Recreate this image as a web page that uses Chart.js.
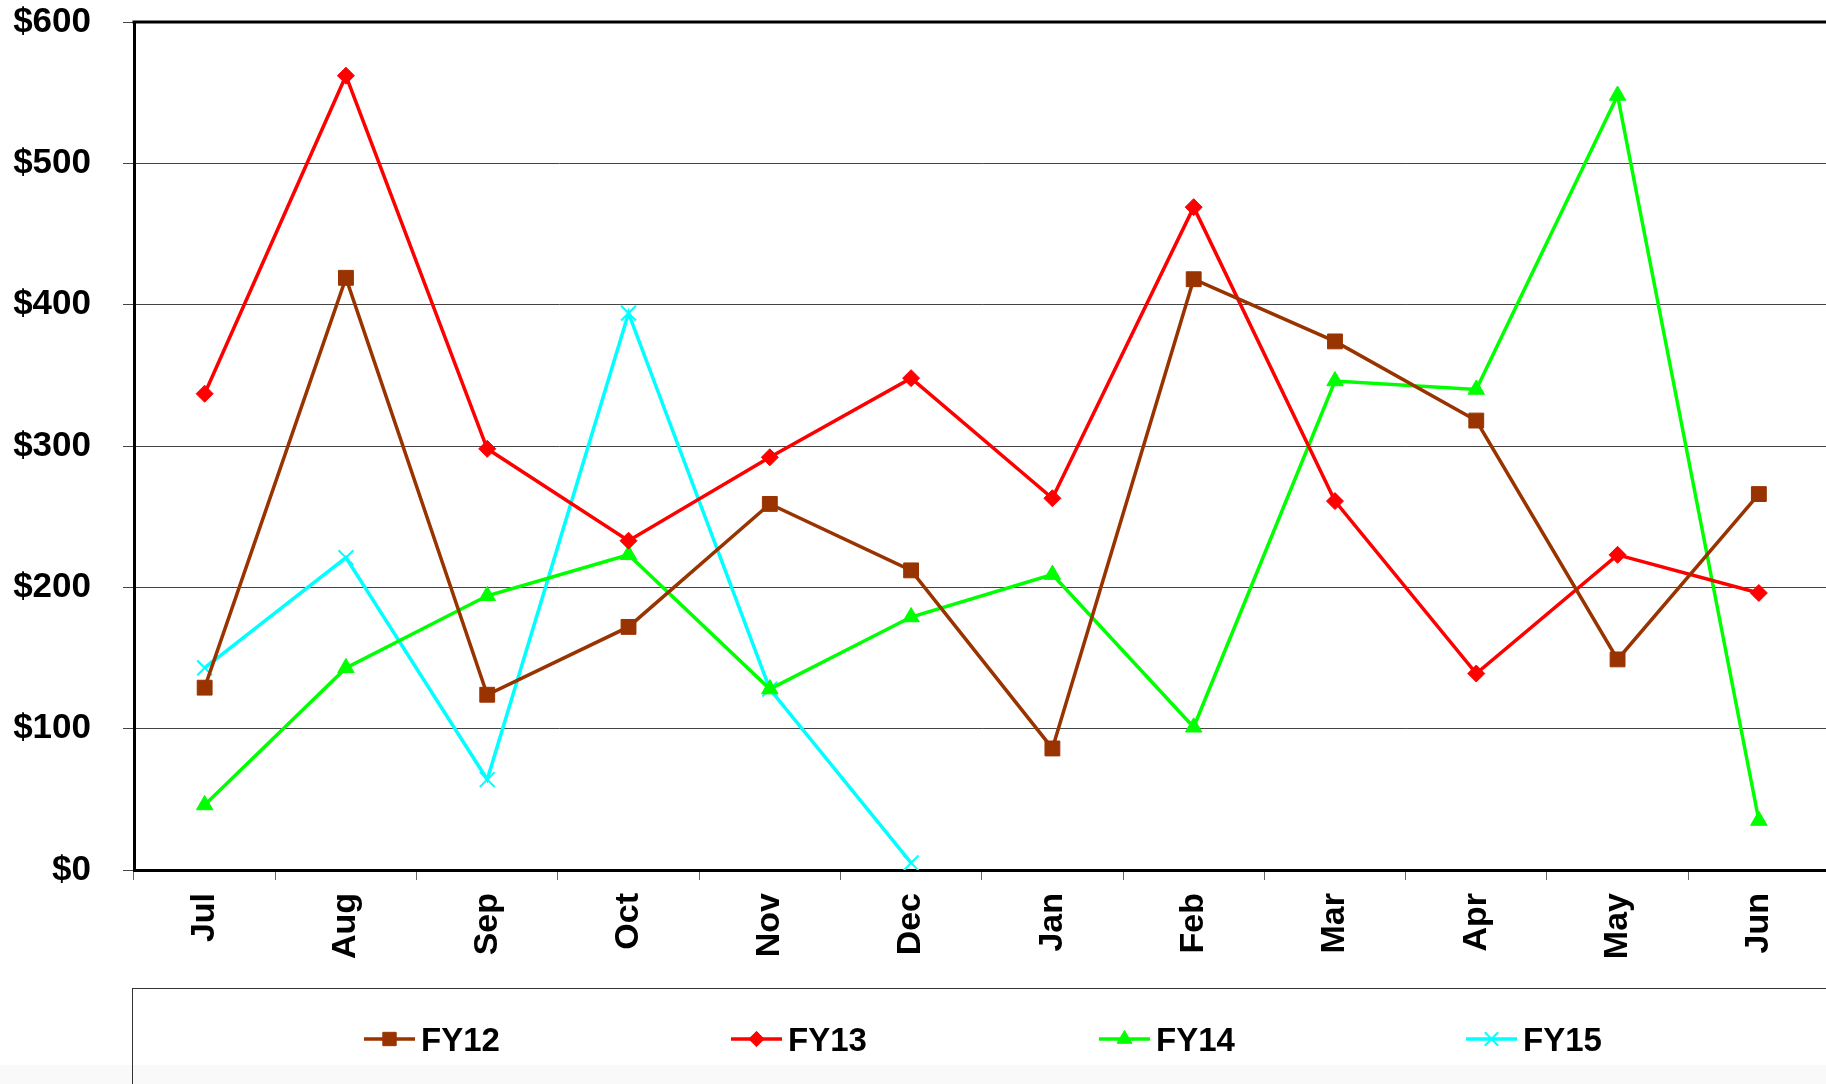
<!DOCTYPE html>
<html>
<head>
<meta charset="utf-8">
<script src="https://cdn.jsdelivr.net/npm/chart.js@4/dist/chart.umd.min.js"></script>
<style>
  html, body { margin: 0; padding: 0; background: #fff; overflow: hidden; }
  #wrap { position: absolute; left: 0; top: 0; width: 1842px; height: 1084px; }
</style>
</head>
<body>
<div id="wrap"><canvas id="c" width="1842" height="1084"></canvas></div>
<script>
const months = ['Jul', 'Aug', 'Sep', 'Oct', 'Nov', 'Dec', 'Jan', 'Feb', 'Mar', 'Apr', 'May', 'Jun'];
const fy12 = [129, 419, 124, 172, 259, 212, 86, 418, 374, 318, 149, 266];
const fy13 = [337, 562, 298, 233, 292, 348, 263, 469, 261, 139, 223, 196];
const fy14 = [46, 143, 194, 223, 128, 179, 209, 101, 346, 340, 548, 35];
const fy15 = [143, 221, 64, 394, 128, 5];
const seriesNames = ['FY12', 'FY13', 'FY14', 'FY15'];
const yTicks = [0, 100, 200, 300, 400, 500, 600];

const FONT = '"Liberation Sans", Arial, sans-serif';
const colors = ['#993300', '#FF0000', '#00FF00', '#00FFFF'];
const styles = ['rect', 'rectRot', 'triangle', 'crossRot'];
const radii = [10.5, 8.5, 9.5, 10.5];
const legendX = [364, 731, 1099, 1466];

function makeDs(i, data) {
  return {
    label: seriesNames[i],
    data: data,
    borderColor: colors[i],
    backgroundColor: colors[i],
    borderWidth: 3.5,
    pointStyle: styles[i],
    pointRadius: radii[i],
    pointBackgroundColor: colors[i],
    pointBorderColor: colors[i],
    pointBorderWidth: styles[i] === 'crossRot' ? 2 : 1,
    tension: 0,
    fill: false
  };
}

const framePlugin = {
  id: 'frame',
  beforeDraw(chart) {
    const ctx = chart.ctx;
    ctx.save();
    ctx.fillStyle = '#ffffff';
    ctx.fillRect(0, 0, chart.width, chart.height);
    ctx.fillStyle = '#f9f9f9';
    ctx.fillRect(0, 1065, chart.width, chart.height - 1065);
    ctx.restore();
  },
  afterDraw(chart) {
    const ctx = chart.ctx;
    const a = chart.chartArea;
    ctx.save();
    ctx.strokeStyle = '#000';
    ctx.lineWidth = 3;
    ctx.beginPath();
    ctx.moveTo(a.left - 1.5, a.top);
    ctx.lineTo(chart.width, a.top);
    ctx.stroke();
    ctx.strokeStyle = '#333';
    ctx.lineWidth = 1;
    ctx.strokeRect(132.5, 988.5, chart.width + 50, 200);
    const ly = 1039;
    chart.data.datasets.forEach((ds, i) => {
      const x0 = legendX[i];
      ctx.strokeStyle = ds.borderColor;
      ctx.lineWidth = 3.5;
      ctx.beginPath();
      ctx.moveTo(x0, ly);
      ctx.lineTo(x0 + 51, ly);
      ctx.stroke();
      ctx.fillStyle = ds.borderColor;
      ctx.strokeStyle = ds.borderColor;
      ctx.lineWidth = ds.pointBorderWidth;
      Chart.helpers.drawPoint(ctx, {
        pointStyle: ds.pointStyle,
        radius: ds.pointRadius * 0.9,
        borderWidth: ds.pointBorderWidth
      }, x0 + 25.5, ly);
      ctx.fillStyle = '#000';
      ctx.font = 'bold 33px ' + FONT;
      ctx.textBaseline = 'alphabetic';
      ctx.textAlign = 'left';
      ctx.fillText(ds.label, x0 + 57, 1051);
    });
    ctx.restore();
  }
};

new Chart(document.getElementById('c'), {
  type: 'line',
  data: {
    labels: months,
    datasets: [makeDs(0, fy12), makeDs(1, fy13), makeDs(2, fy14), makeDs(3, fy15)]
  },
  plugins: [framePlugin],
  options: {
    responsive: false,
    devicePixelRatio: 1,
    animation: false,
    layout: { padding: { top: 22, right: 2, bottom: 0, left: 0 } },
    plugins: { legend: { display: false }, tooltip: { enabled: false } },
    scales: {
      x: {
        type: 'category',
        offset: true,
        grid: { offset: true, drawOnChartArea: false, drawTicks: true, tickLength: 10, color: '#666', lineWidth: 1 },
        border: { display: true, color: '#000', width: 3 },
        ticks: {
          autoSkip: false, minRotation: 90, maxRotation: 90, padding: 13,
          color: '#000', font: { family: FONT, size: 34, weight: 'bold' }
        },
        afterFit(scale) { scale.height = 214; scale.paddingLeft = 0; scale.paddingRight = 0; }
      },
      y: {
        min: 0, max: 600,
        afterBuildTicks(scale) { scale.ticks = yTicks.map(v => ({ value: v })); },
        grid: { color: '#444', lineWidth: 1, drawTicks: true, tickLength: 11 },
        border: { display: true, color: '#000', width: 3 },
        ticks: {
          padding: 32, color: '#000',
          font: { family: FONT, size: 35, weight: 'bold' },
          callback: v => '$' + v
        },
        afterFit(scale) { scale.width = 134; scale.paddingTop = 0; scale.paddingBottom = 0; }
      }
    }
  }
});
</script>
</body>
</html>
